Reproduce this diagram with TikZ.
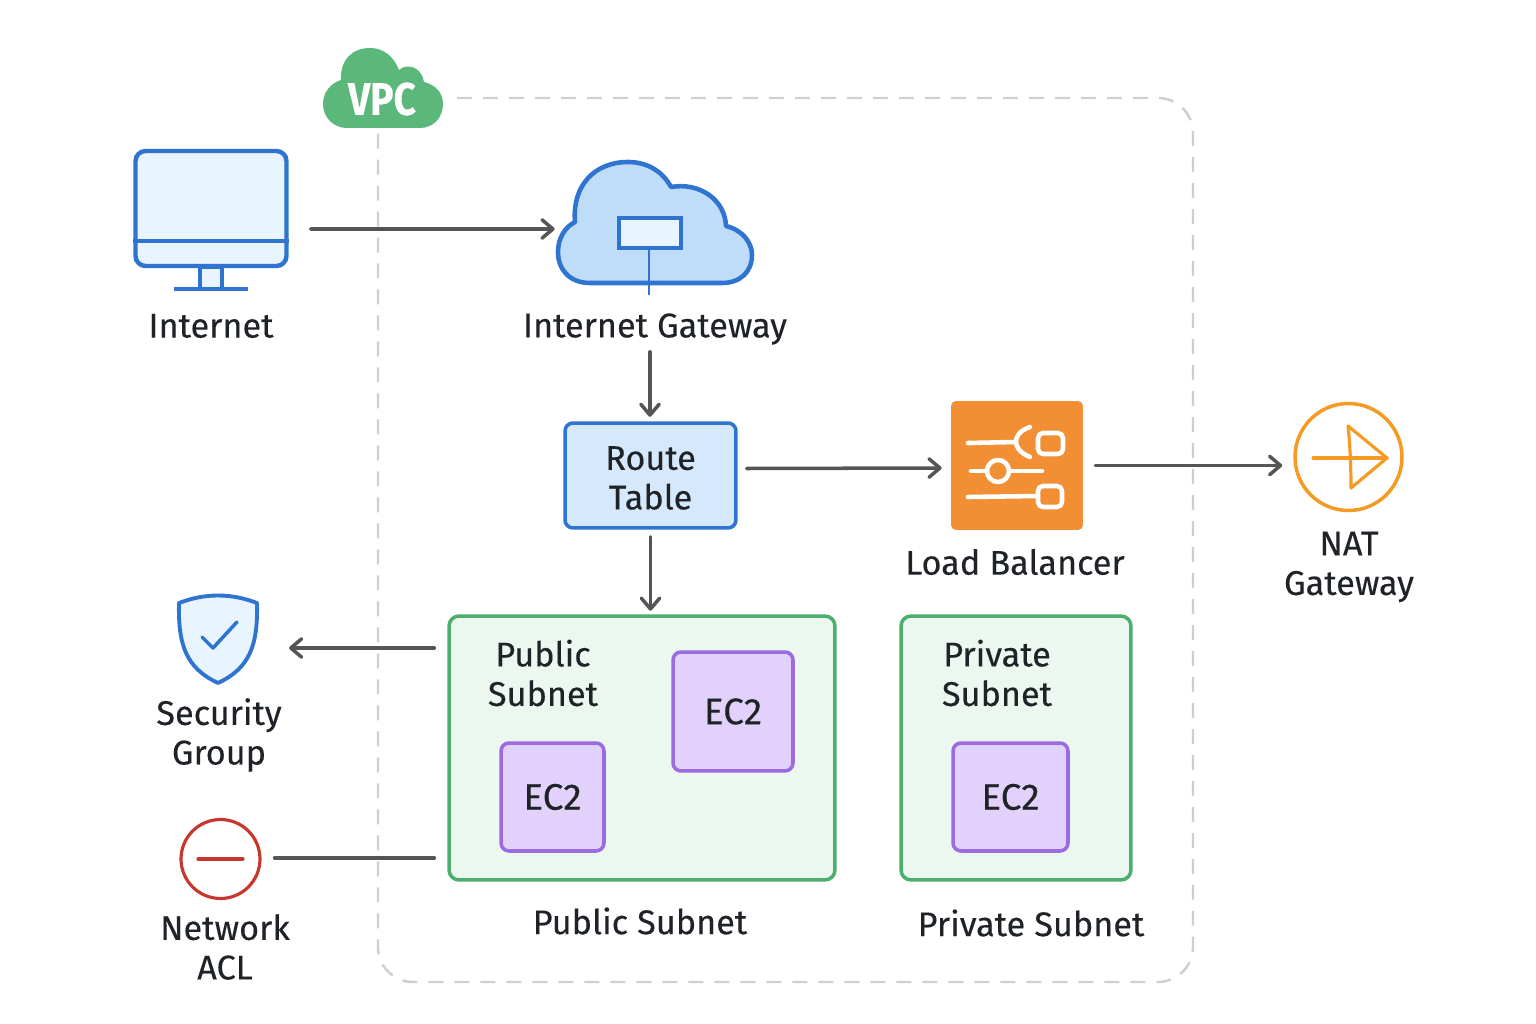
\documentclass[tikz,border=0pt]{standalone}
\usepackage{fontspec}
\setmainfont{Fira Sans}[FakeBold=0.25]
\usetikzlibrary{arrows.meta,calc}
\definecolor{bluepen}{HTML}{2F74D0}
\definecolor{bluepale}{HTML}{E8F4FE}
\definecolor{bluefill}{HTML}{BFDCF9}
\definecolor{routefill}{HTML}{D6E9FC}
\definecolor{greenpen}{HTML}{4CAF6E}
\definecolor{greenpale}{HTML}{EBF7EF}
\definecolor{vpcgreen}{HTML}{5CB87A}
\definecolor{purplepen}{HTML}{9B6BE0}
\definecolor{purplefill}{HTML}{E2D1FB}
\definecolor{lborange}{HTML}{F28E33}
\definecolor{natorange}{HTML}{F59A23}
\definecolor{aclred}{HTML}{C8372D}
\definecolor{linegray}{HTML}{555555}
\definecolor{dashgray}{HTML}{CFCFCF}
\definecolor{ink}{HTML}{1F2328}
\tikzset{
  lbl/.style={font=\fontsize{19.5}{22.5}\selectfont,align=center,text=ink,inner sep=0pt},
  flow/.style={draw=linegray,line width=2pt,line cap=round,-{Straight Barb[length=6.2pt,width=10.5pt,round]}},
  plainflow/.style={draw=linegray,line width=2pt,line cap=round},
  subnetbox/.style={draw=greenpen,fill=greenpale,line width=2pt,rounded corners=0.2cm,inner sep=0pt},
  ecbox/.style={draw=purplepen,fill=purplefill,line width=2pt,rounded corners=0.16cm,inner sep=0pt,font=\fontsize{21}{23}\selectfont,text=ink},
  bluepath/.style={draw=bluepen,line width=2.6pt,line join=round},
  lbstroke/.style={draw=white,line width=2.6pt,line cap=round,line join=round},
  natstroke/.style={draw=natorange,line width=1.8pt,line cap=round,line join=round}
}
\begin{document}
\begin{tikzpicture}[x=0.02cm,y=-0.02cm]
\useasboundingbox (0,0) rectangle (1536,1024);
% vpc outline
\draw[dashgray,line width=1.4pt,dash pattern=on 0.3cm off 0.22cm,rounded corners=0.7cm] (457,98) -- (1193,98) -- (1193,982) -- (378,982) -- (378,128);
\fill[vpcgreen] (341,80) .. controls (340,60) and (352,48) .. (370,48) .. controls (384,48) and (394,57) .. (399,70) .. controls (408,62) and (422,68) .. (424,82) .. controls (436,85) and (443,93) .. (443,104) .. controls (443,118) and (433,128) .. (420,128) -- (347,128) .. controls (333,128) and (323,117) .. (323,104) .. controls (323,92) and (331,83) .. (341,80) -- cycle;
\node[font=\fontsize{26}{28}\selectfont\bfseries,text=white,inner sep=0pt,xscale=0.85] (vpclabel) at (382,99) {VPC};
% internet
\node[draw=bluepen,fill=bluepale,line width=2.5pt,rounded corners=0.2cm,minimum width=3.02cm,minimum height=2.3cm,inner sep=0pt] (internet) at (211,208.5) {};
\draw[bluepen,line width=2.2pt] (internet.west |- 0,241) -- (internet.east |- 0,241);
\filldraw[draw=bluepen,fill=bluepale,line width=1.8pt] (200,267) rectangle (222,289);
\draw[bluepen,line width=2pt] (174,289) -- (248,289);
\node[lbl] (internettext) at (211,326) {Internet};
% internet gateway
\node[minimum width=3.92cm,minimum height=2.46cm,inner sep=0pt] (igw) at (655,222) {};
\filldraw[bluepath,fill=bluefill] (575,222) .. controls (572,185) and (595,162) .. (628,162) .. controls (648,162) and (663,172) .. (671,187) .. controls (700,182) and (725,200) .. (726,226) .. controls (742,230) and (752,242) .. (752,255) .. controls (752,272) and (740,283) .. (722,283) -- (590,283) .. controls (570,283) and (558,270) .. (558,252) .. controls (558,238) and (565,227) .. (575,222) -- cycle;
\filldraw[draw=bluepen,fill=bluepale,line width=2pt] (619,218) rectangle (681,248);
\draw[bluepen,line width=1.5pt] (649,248) -- (649,295);
\node[lbl] (igwtext) at (655,329) {Internet Gateway};
% route table
\node[draw=bluepen,fill=routefill,line width=2pt,rounded corners=0.16cm,minimum width=3.42cm,minimum height=2.1cm,inner sep=0pt] (route) at (650.5,475.5) {};
\node[lbl] (routetext) at (650.5,478) {Route\\Table};
% load balancer
\node[fill=lborange,rounded corners=0.1cm,minimum width=2.64cm,minimum height=2.58cm,inner sep=0pt] (lb) at (1017,465.5) {};
\draw[lbstroke] (968,443) -- (1016,442);
\draw[lbstroke] (1030,427) .. controls (1018,431) and (1016,438) .. (1016,442) .. controls (1016,447) and (1020,453) .. (1030,457);
\draw[lbstroke,rounded corners=0.1cm] (1038,433) rectangle (1063,454);
\draw[lbstroke] (971,471) -- (986,471);
\draw[lbstroke] (1010,471) -- (1042,471);
\draw[lbstroke] (998,471) circle (0.22cm);
\draw[lbstroke] (968,497) -- (1037,496);
\draw[lbstroke,rounded corners=0.1cm] (1038,486) rectangle (1062,507);
\node[lbl] (lbtext) at (1015,562) {Load Balancer};
% nat gateway
\node[circle,draw=natorange,line width=2pt,minimum size=2.14cm,inner sep=0pt] (nat) at (1348.5,457) {};
\draw[natstroke] (1313,458) -- (1387,458);
\draw[natstroke] (1348,426) -- (1387,458) -- (1351,488) .. controls (1351,465) and (1350,445) .. (1348,426) -- cycle;
\node[lbl] (nattext) at (1349,567) {NAT\\Gateway};
% security group
\coordinate (sg) at (289,648);
\filldraw[bluepath,fill=bluepale,line width=2.2pt] (179,603) .. controls (205,593) and (231,593) .. (257,603) .. controls (258,645) and (250,668) .. (218,683) .. controls (186,668) and (178,645) .. (179,603) -- cycle;
\draw[bluepen,line width=2pt,line cap=round,line join=round] (202,637) -- (213,648) -- (237,622);
\node[lbl] (sgtext) at (219,735) {Security\\Group};
% network acl
\node[circle,draw=aclred,line width=1.8pt,minimum size=1.58cm,inner sep=0pt] (acl) at (220.5,859) {};
\draw[aclred,line width=1.8pt,line cap=round] (198,859) -- (243,859);
\node[lbl] (acltext) at (225,947) {Network\\ACL};
% subnets
\node[subnetbox,minimum width=7.72cm,minimum height=5.28cm] (public) at (642,748) {};
\node[subnetbox,minimum width=4.6cm,minimum height=5.28cm] (private) at (1016,748) {};
\node[lbl] (publictext) at (543,673) {Public\\Subnet};
\node[lbl] (privatetext) at (997,673) {Private\\Subnet};
\node[ecbox,minimum width=2.4cm,minimum height=2.38cm] (econe) at (733,711.5) {EC2};
\node[ecbox,minimum width=2.06cm,minimum height=2.16cm] (ectwo) at (552.5,797) {EC2};
\node[ecbox,minimum width=2.3cm,minimum height=2.16cm] (ecthree) at (1010.5,797) {EC2};
\node[lbl] (publiccap) at (640,921) {Public Subnet};
\node[lbl] (privatecap) at (1031,923) {Private Subnet};
% connectors
\draw[flow] ($(internet.east)+(22,20.5)$) -- ($(igw.west)+(-2,7)$);
\draw[flow] ($(igw.south)+(-5,68)$) -- ($(igw.south)+(-5,133)$);
\draw[flow] ($(route.east)+(9,-7)$) -- ($(lb.west)+(-9,2.5)$);
\draw[flow] ($(lb.east)+(12,0)$) -- ($(nat.west)+(-11,8.5)$);
\draw[flow] ($(route.south)+(0,7)$) -- ($(route.south)+(0,81)$);
\draw[flow] ($(public.west)+(-13,-100)$) -- (sg);
\draw[plainflow] ($(public.west)+(-13,110)$) -- ($(acl.east)+(13,-1)$);
\end{tikzpicture}
\end{document}
